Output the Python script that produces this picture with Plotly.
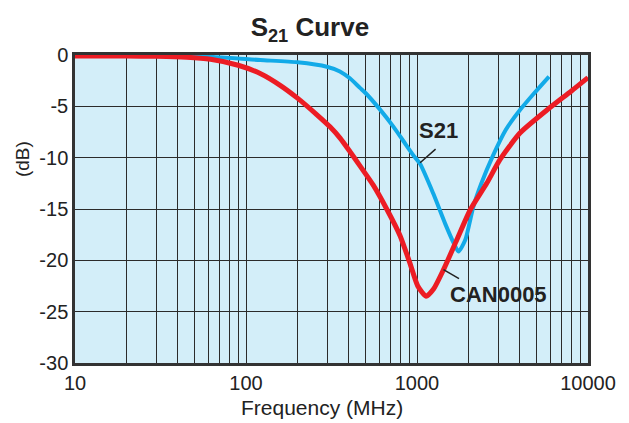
import plotly.graph_objects as go

# Data
s21_freq = [10, 20, 40, 62, 121, 200, 297, 354, 405, 464, 500, 600, 729, 834, 955, 1042, 1245, 1459, 1637, 1748, 1917, 2134, 2380, 2765, 3300, 4000, 4800, 5916]
s21_db = [-0.1, -0.1, -0.12, -0.18, -0.49, -0.71, -1.14, -1.6, -2.27, -3.2, -3.7, -5.2, -7.0, -8.4, -9.8, -10.6, -13.5, -16.4, -18.3, -19.15, -18.0, -14.8, -12.5, -9.9, -7.3, -5.36, -3.8, -2.1]

can_freq = [10, 20, 30, 45, 62, 90, 121, 160, 200, 259, 310, 355, 405, 464, 556, 665, 796, 906, 1010, 1130, 1250, 1430, 1710, 2046, 2557, 3055, 4000, 5754, 8000, 10000]
can_db = [-0.1, -0.1, -0.13, -0.22, -0.42, -1.0, -1.8, -3.0, -4.2, -5.8, -7.0, -8.1, -9.4, -10.8, -12.7, -15.0, -17.6, -20.2, -22.5, -23.5, -22.8, -20.9, -18.0, -15.1, -12.5, -10.2, -7.6, -5.36, -3.5, -2.2]

x_tickvals = [10, 100, 1000, 10000]
x_ticktext = ["10", "100", "1000", "10000"]
y_tickvals = [0, -5, -10, -15, -20, -25, -30]
y_ticktext = ["0", "-5", "-10", "-15", "-20", "-25", "-30"]

FONT = "Liberation Sans, Arial, Helvetica, sans-serif"
GRID = "#2b2b2b"
TXT = "#222"

fig = go.Figure()
fig.add_trace(go.Scatter(x=s21_freq, y=s21_db, mode="lines", name="S21",
                         line=dict(color="#12aae8", width=4, shape="spline", smoothing=0.6)))
fig.add_trace(go.Scatter(x=can_freq, y=can_db, mode="lines", name="CAN0005",
                         line=dict(color="#ec1c24", width=5, shape="spline", smoothing=0.6)))

# leader lines
fig.add_annotation(x=3.018, y=-10.5, xref="x", yref="y", text="",
                   showarrow=True, arrowhead=0, arrowwidth=1.5, arrowcolor=TXT,
                   ax=17, ay=-15)
fig.add_annotation(x=3.155, y=-20.9, xref="x", yref="y", text="",
                   showarrow=True, arrowhead=0, arrowwidth=1.5, arrowcolor=TXT,
                   ax=17, ay=10)
# labels
fig.add_annotation(x=3.123, y=-7.4, xref="x", yref="y", text="<b>S21</b>", showarrow=False,
                   xanchor="center", yanchor="middle", font=dict(family=FONT, size=22, color=TXT))
fig.add_annotation(x=3.474, y=-23.3, xref="x", yref="y", text="<b>CAN0005</b>", showarrow=False,
                   xanchor="center", yanchor="middle", font=dict(family=FONT, size=22, color=TXT))
# axis titles
fig.add_annotation(x=0.5, y=0, xref="paper", yref="paper", xshift=-10, yshift=-44,
                   text="Frequency (MHz)", showarrow=False, xanchor="center", yanchor="middle",
                   font=dict(family=FONT, size=21, color=TXT))
fig.add_annotation(x=0, y=0.662, xref="paper", yref="paper", xshift=-53,
                   text="(dB)", textangle=-90, showarrow=False, xanchor="center", yanchor="middle",
                   font=dict(family=FONT, size=19, color=TXT))

fig.update_layout(
    width=629, height=423,
    margin=dict(l=67, r=49, t=47, b=68),
    paper_bgcolor="white",
    plot_bgcolor="#d3eef9",
    showlegend=False,
    title=dict(text="<b>S<sub>21</sub> Curve</b>", x=0.48, xanchor="center", y=0.955, yanchor="middle",
               font=dict(family=FONT, size=26, color=TXT)),
    font=dict(family=FONT, color=TXT),
)
fig.update_xaxes(
    type="log", range=[1, 4],
    tickvals=x_tickvals, ticktext=x_ticktext,
    tickfont=dict(size=20, color=TXT),
    showgrid=True, gridcolor=GRID, gridwidth=1.3,
    minor=dict(dtick="D1", showgrid=True, gridcolor=GRID, gridwidth=1.1),
    showline=True, linecolor="#333", linewidth=2.5, mirror=True,
    ticks="", zeroline=False,
)
fig.update_yaxes(
    range=[-30, 0],
    tickvals=y_tickvals, ticktext=y_ticktext,
    tickfont=dict(size=20, color=TXT),
    showgrid=True, gridcolor=GRID, gridwidth=1.3,
    showline=True, linecolor="#333", linewidth=2.5, mirror=True,
    ticks="", zeroline=False,
)

fig.write_html("out.html")
